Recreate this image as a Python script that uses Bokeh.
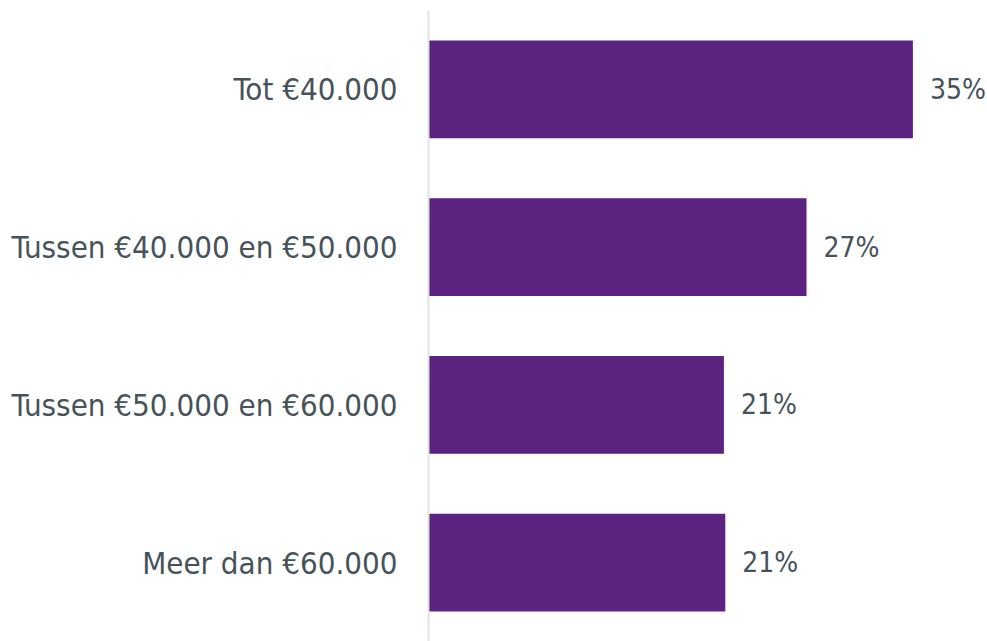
from bokeh.plotting import figure
from bokeh.models import ColumnDataSource, FactorRange, Range1d
from bokeh.embed import file_html
from bokeh.resources import INLINE

categories = ["Tot €40.000", "Tussen €40.000 en €50.000", "Tussen €50.000 en €60.000", "Meer dan €60.000"]
values = [34.6, 27.0, 21.1, 21.2]
labels = ["35%", "27%", "21%", "21%"]

FONT = "DejaVu Sans Condensed"
TEXT_COLOR = "#46535b"
BAR_COLOR = "#5b237f"

src = ColumnDataSource(dict(cat=categories, val=values, lab=labels))

W, H = 987, 641
LEFT = 428
p = figure(width=W, height=H, output_backend="svg", toolbar_location=None,
           y_range=FactorRange(factors=list(reversed(categories)), range_padding=0),
           x_range=Range1d(0, (W - LEFT) / 14.0),
           min_border_left=LEFT, min_border_right=0, min_border_top=10, min_border_bottom=0)

p.hbar(y="cat", right="val", left=0, height=0.62, source=src, color=BAR_COLOR, line_color=None)
p.text(x="val", y="cat", text="lab", source=src, x_offset=17, text_align="left",
       text_baseline="middle", text_color=TEXT_COLOR, text_font_size="28px",
       text_font={"value": FONT})

p.xaxis.visible = False
p.xgrid.visible = False
p.ygrid.visible = False
p.outline_line_color = None
p.yaxis.axis_line_color = "#e0e3e8"
p.yaxis.axis_line_width = 2
p.yaxis.major_tick_line_color = None
p.yaxis.minor_tick_line_color = None
p.yaxis.major_tick_out = 0
p.yaxis.major_label_standoff = 31
p.yaxis.major_label_text_font = FONT
p.yaxis.major_label_text_font_size = "31px"
p.yaxis.major_label_text_color = TEXT_COLOR

open("out.html", "w").write(file_html(p, INLINE))
